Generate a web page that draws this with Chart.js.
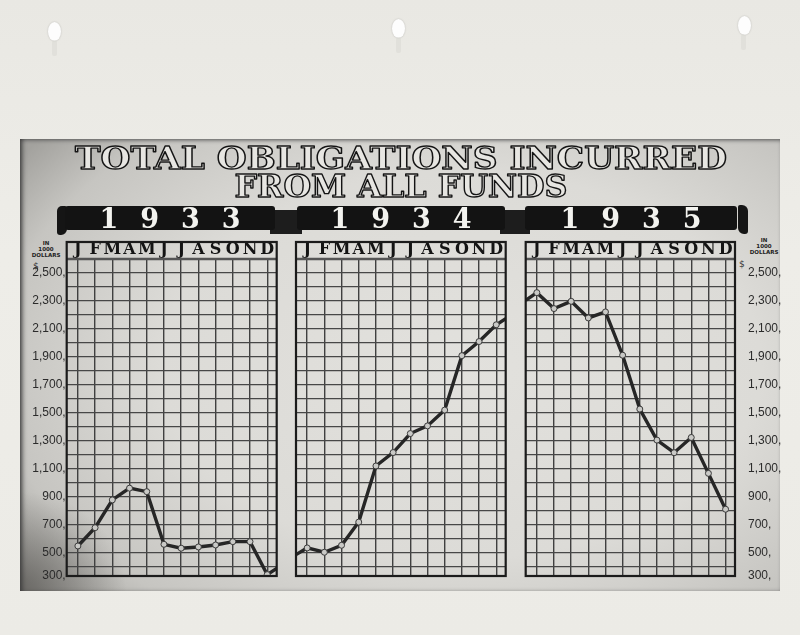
<!DOCTYPE html>
<html>
<head>
<meta charset="utf-8">
<script src="https://cdn.jsdelivr.net/npm/chart.js@4.4.1/dist/chart.umd.min.js"></script>
<style>
  html, body { margin: 0; padding: 0; }
  body {
    width: 800px; height: 635px; position: relative; overflow: hidden;
    background: linear-gradient(180deg, #e9e8e3 0%, #eeede8 40%, #ecebe6 100%);
    font-family: 'Liberation Sans', sans-serif;
  }
  .pin { position: absolute; width: 13px; height: 19px; border-radius: 50%; background: #fdfdfd; box-shadow: 0 0 2px rgba(0,0,0,0.2); }
  .drip { position: absolute; width: 5px; height: 16px; border-radius: 3px; background: rgba(215,215,210,0.5); }
  #board {
    position: absolute; left: 20px; top: 139px; width: 760px; height: 452px;
    background:
      radial-gradient(ellipse 14% 22% at 0% 100%, rgba(60,58,55,0.55) 0%, rgba(60,58,55,0) 100%),
      radial-gradient(ellipse 72% 78% at 58% 50%, #e2e1dd 0%, #dcdbd7 55%, #c6c5c1 85%, #a3a29e 100%);
    box-shadow: inset 4px 0 5px -2px #3a3a3a, inset 0 3px 4px -2px #666;
  }
  #title { position: absolute; left: 0; top: 132px; }
  .band {
    position: absolute; top: 206px; height: 24px; background: #131313; border-radius: 3px;
    color: #f3f3ef; font-family: 'DejaVu Serif', serif; font-weight: bold; font-size: 27px;
    line-height: 25px; text-align: center; letter-spacing: 22px; text-indent: 22px; overflow: hidden;
  }
  .fold { position: absolute; top: 210px; height: 24px; background: #1d1d1d; }
  .curl { position: absolute; width: 10px; height: 29px; background: #151515; border-radius: 5px 2px 6px 3px; }
  .unit {
    position: absolute; width: 40px; text-align: center; font-family: 'DejaVu Sans', sans-serif;
    font-weight: bold; font-size: 5.5px; line-height: 6.2px; color: #222;
  }
  .dollar { position: absolute; font-family: 'DejaVu Sans', sans-serif; font-size: 9px; color: #333; }
  canvas.panel { position: absolute; top: 236px; }
</style>
</head>
<body>
<div class="pin" style="left:48px; top:22px;"></div><div class="drip" style="left:52px; top:40px;"></div>
<div class="pin" style="left:392px; top:19px;"></div><div class="drip" style="left:396px; top:37px;"></div>
<div class="pin" style="left:738px; top:16px;"></div><div class="drip" style="left:741px; top:34px;"></div>

<div id="board"></div>
<canvas id="title" width="800" height="74"></canvas>
<div id="banners"></div>

<div class="unit" style="left:26px; top:240px;">IN<br>1000<br>DOLLARS</div>
<div class="unit" style="left:744px; top:237px;">IN<br>1000<br>DOLLARS</div>
<div class="dollar" style="left:33px; top:261px;">$</div>
<div class="dollar" style="left:739px; top:259px;">$</div>

<canvas class="panel" id="c1933" width="262" height="352" style="left:20px;"></canvas>
<canvas class="panel" id="c1934" width="222" height="352" style="left:290px;"></canvas>
<canvas class="panel" id="c1935" width="281" height="352" style="left:519px;"></canvas>

<script>
// ===== Data (thousands of dollars) =====
const TITLE_LINES = ['TOTAL OBLIGATIONS INCURRED', 'FROM ALL FUNDS'];
const MONTHS = ['J','F','M','A','M','J','J','A','S','O','N','D'];
const YEARS = ['1933', '1934', '1935'];
const OBLIG_1933 = [545, 676, 875, 959, 934, 557, 529, 538, 552, 576, 576, 340];
const OBLIG_1934 = [531, 500, 550, 716, 1118, 1214, 1350, 1405, 1518, 1908, 2009, 2129];
const OBLIG_1935 = [2359, 2245, 2297, 2178, 2221, 1911, 1525, 1303, 1213, 1322, 1065, 808];
// where the line meets the panel edges (carried on from the neighbouring year)
const EDGE_IN  = [null, 483, 2304];
const EDGE_OUT = [385, 2172, null];

const Y_LABEL_VALUES = [2500, 2300, 2100, 1900, 1700, 1500, 1300, 1100, 900, 700, 500];
const Y_LABELS = ['2,500,', '2,300,', '2,100,', '1,900,', '1,700,', '1,500,', '1,300,', '1,100,', '900,', '700,', '500,'];
const Y_BOTTOM_LABEL = '300,';

const Y_MIN = 330, Y_MAX = 2600, Y_STEP = 100;
const X_MIN = -0.65, X_MAX = 11.55;

// ===== Outlined title =====
(function drawTitle() {
  const ctx = document.getElementById('title').getContext('2d');
  const lines = [{ text: TITLE_LINES[0], base: 37, w: 652 }, { text: TITLE_LINES[1], base: 65, w: 333 }];
  ctx.font = 'bold 31px "DejaVu Serif"';
  ctx.textBaseline = 'alphabetic';
  ctx.lineJoin = 'round';
  lines.forEach(l => {
    const m = ctx.measureText(l.text).width;
    ctx.save();
    ctx.translate(401, l.base);
    ctx.scale(l.w / m, 1);
    ctx.fillStyle = '#e7e6e2';
    ctx.fillText(l.text, -m / 2, 0);
    ctx.strokeStyle = '#141414';
    ctx.lineWidth = 1.4;
    ctx.strokeText(l.text, -m / 2, 0);
    ctx.restore();
  });
})();

// ===== Year ribbons =====
const bandPos = [[65, 210], [297, 208], [525, 212]];
let bhtml = '<div class="curl" style="left:57px; top:206px;"></div>';
bhtml += '<div class="fold" style="left:270px; width:32px;"></div>';
bhtml += '<div class="fold" style="left:500px; width:30px;"></div>';
bhtml += '<div class="curl" style="left:738px; top:205px; border-radius:2px 6px 3px 6px;"></div>';
YEARS.forEach((y, i) => {
  bhtml += `<div class="band" style="left:${bandPos[i][0]}px; width:${bandPos[i][1]}px;">${y}</div>`;
});
document.getElementById('banners').innerHTML = bhtml;

// ===== Charts =====
const gridTicks = [Y_MIN];
for (let v = 400; v <= Y_MAX; v += Y_STEP) gridTicks.push(v);

const framePlugin = {
  id: 'frame',
  afterDraw(chart) {
    const { ctx, chartArea: a, scales: { x } } = chart;
    ctx.save();
    ctx.strokeStyle = '#555';
    ctx.lineWidth = 2.6;
    ctx.beginPath(); ctx.moveTo(a.left, a.top); ctx.lineTo(a.right, a.top); ctx.stroke();
    ctx.strokeStyle = '#1b1b1b';
    ctx.lineWidth = 2.2;
    ctx.strokeRect(a.left, x.top, a.right - a.left, a.bottom - x.top);
    ctx.restore();
  }
};

function makePanel(id, values, edgeIn, edgeOut, side, pad) {
  const pts = values.map((v, i) => ({ x: i, y: v }));
  if (edgeIn != null) pts.unshift({ x: X_MIN, y: edgeIn });
  if (edgeOut != null) pts.push({ x: X_MAX, y: edgeOut });

  const yAxis = {
    type: 'linear',
    position: side === 'right' ? 'right' : 'left',
    min: Y_MIN, max: Y_MAX,
    afterBuildTicks: s => { s.ticks = gridTicks.map(v => ({ value: v })); },
    afterFit: s => {
      s.width = side === 'left' ? 46.7 : side === 'right' ? 65 : 0;
      s.paddingTop = 0; s.paddingBottom = 0;
    },
    border: { display: false },
    grid: { color: '#474747', lineWidth: 1.2, drawTicks: false },
    ticks: {
      display: side !== 'none',
      autoSkip: false,
      padding: side === 'right' ? 13 : 1,
      color: '#2b2b2b',
      font: { family: 'Liberation Sans', size: 12 },
      callback: v => {
        if (v === Y_MIN) return Y_BOTTOM_LABEL;
        const k = Y_LABEL_VALUES.indexOf(v);
        return k >= 0 ? Y_LABELS[k] : '';
      }
    }
  };

  new Chart(document.getElementById(id), {
    type: 'line',
    data: {
      datasets: [{
        data: pts,
        borderColor: '#262626',
        borderWidth: 3.4,
        tension: 0,
        pointRadius: pts.map(p => Number.isInteger(p.x) ? 3 : 0),
        pointBackgroundColor: '#c9c9c6',
        pointBorderColor: '#3a3a3a',
        pointBorderWidth: 1
      }]
    },
    options: {
      responsive: false,
      animation: false,
      layout: { padding: { top: 6, bottom: 12, left: pad[0], right: pad[1] } },
      plugins: { legend: { display: false }, tooltip: { enabled: false } },
      scales: {
        x: {
          type: 'linear',
          position: 'top',
          min: X_MIN, max: X_MAX,
          afterBuildTicks: s => { s.ticks = MONTHS.map((m, i) => ({ value: i })); },
          afterFit: s => { s.height = 17; s.paddingLeft = 0; s.paddingRight = 0; },
          border: { display: false },
          grid: { color: '#404040', lineWidth: 1.4, drawTicks: false },
          ticks: {
            autoSkip: false,
            maxRotation: 0,
            padding: 0,
            color: '#141414',
            font: { family: 'DejaVu Serif', size: 16, weight: 'bold' },
            callback: (v, i) => MONTHS[i]
          }
        },
        y: yAxis
      }
    },
    plugins: [framePlugin]
  });
}

makePanel('c1933', OBLIG_1933, EDGE_IN[0], EDGE_OUT[0], 'left',  [0, 5.3]);
makePanel('c1934', OBLIG_1934, EDGE_IN[1], EDGE_OUT[1], 'none',  [6, 6.3]);
makePanel('c1935', OBLIG_1935, EDGE_IN[2], EDGE_OUT[2], 'right', [6.7, 0]);
</script>
</body>
</html>
